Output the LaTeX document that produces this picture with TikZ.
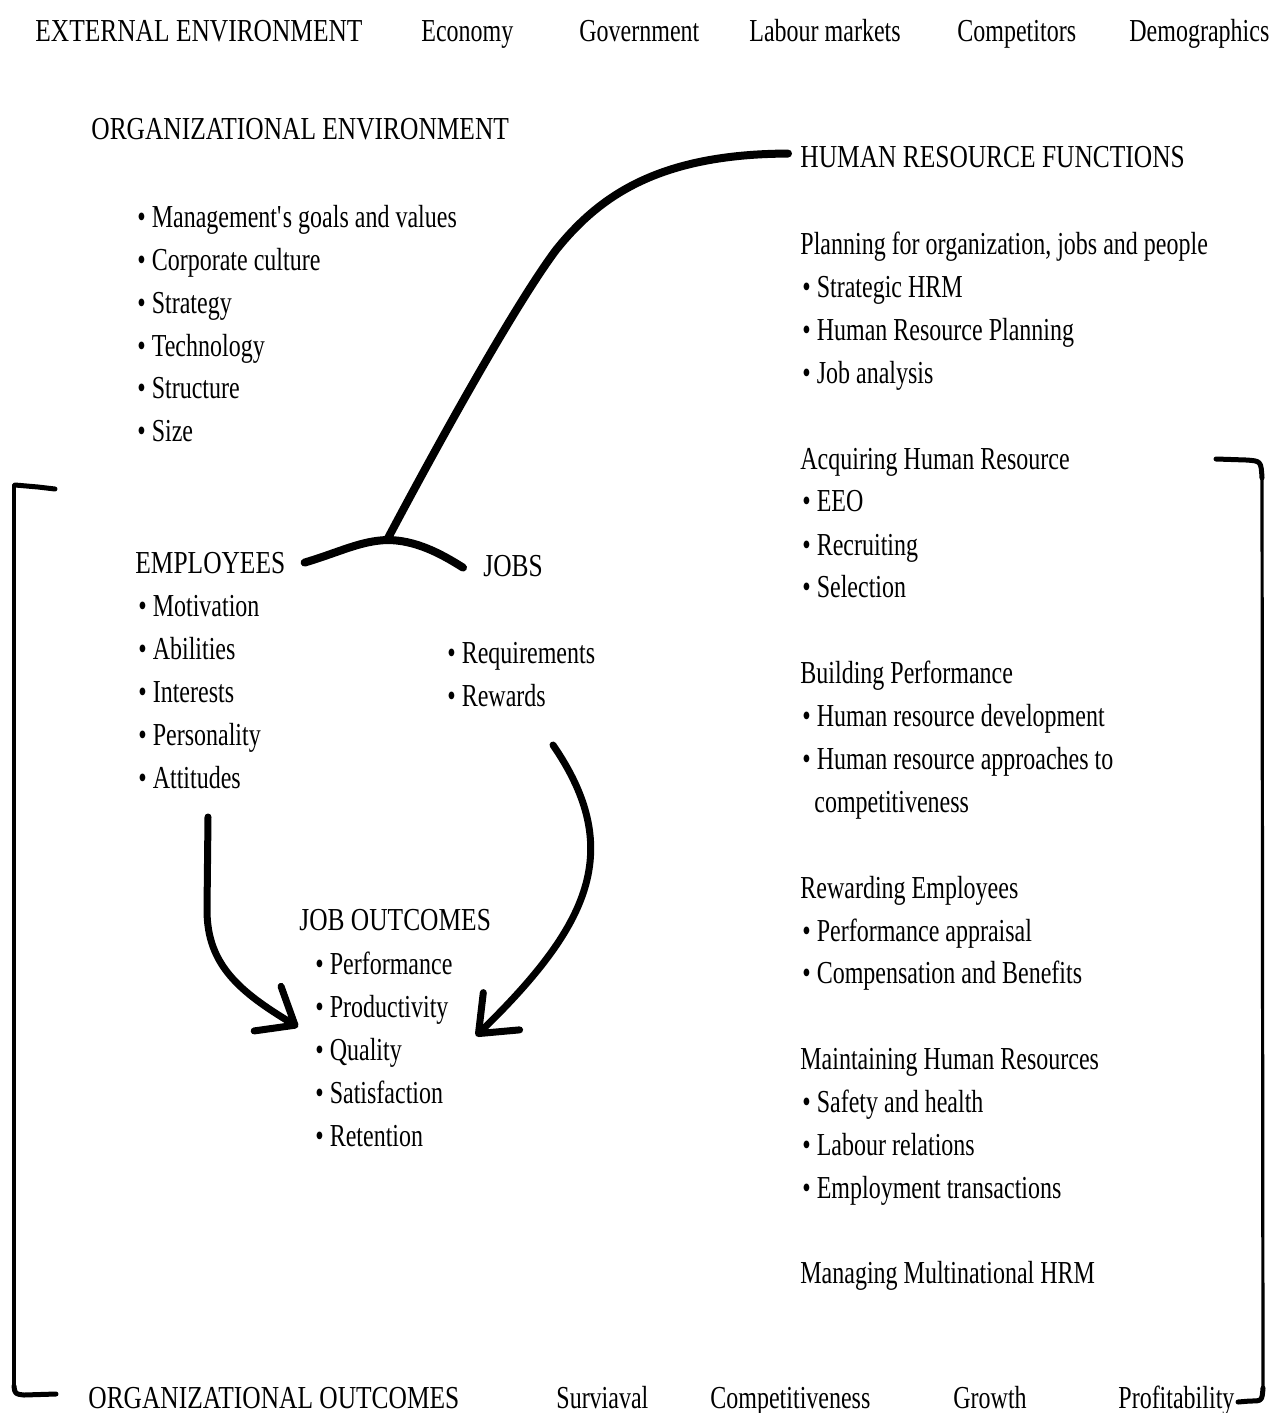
\documentclass[tikz,border=0pt]{standalone}
\usepackage{fontspec}
\setmainfont{Liberation Serif}[FakeStretch=0.75]
\newfontfamily\capsfont{Liberation Serif}[FakeStretch=0.795]
\usetikzlibrary{arrows.meta}
\newcommand\itembul{\textbullet\ }
\begin{document}
\begin{tikzpicture}[x=0.5pt,y=-0.5pt,
  lbl/.style={anchor=base west,inner sep=0pt,font=\fontsize{16}{19}\selectfont},
  head/.style={lbl,font=\fontsize{16}{19}\selectfont\capsfont},
  thickcurve/.style={line width=4pt,line cap=round,line join=round},
  flowarrow/.style={line width=3.5pt,line cap=round,line join=round,
    -{Straight Barb[length=16pt,width=26pt,round]}},
  bracketh/.style={line width=2.5pt,line cap=round,line join=round},
  bracketv/.style={line width=1.6pt,line cap=round},
]
\useasboundingbox (0,0) rectangle (1272,1413);

% external environment row
\node[head] (ext) at (35,42)   {EXTERNAL ENVIRONMENT};
\node[lbl] (econ) at (421,42)  {Economy};
\node[lbl] (gov)  at (579,42)  {Government};
\node[lbl] (lab)  at (749,42)  {Labour markets};
\node[lbl] (comp) at (957,42)  {Competitors};
\node[lbl] (demo) at (1129,42) {Demographics};

% organizational environment
\node[head] (orgenv) at (91,140) {ORGANIZATIONAL ENVIRONMENT};
\node[lbl] (oe1) at (137,227) {\itembul Management\textquotesingle s goals and values};
\node[lbl] (oe2) at (137,270) {\itembul Corporate culture};
\node[lbl] (oe3) at (137,313) {\itembul Strategy};
\node[lbl] (oe4) at (137,356) {\itembul Technology};
\node[lbl] (oe5) at (137,398) {\itembul Structure};
\node[lbl] (oe6) at (137,441) {\itembul Size};

% human resource functions
\node[head] (hrf) at (800,167) {HUMAN RESOURCE FUNCTIONS};
\node[lbl] (plan)  at (800,254) {Planning for organization, jobs and people};
\node[lbl] (plan1) at (802,297) {\itembul Strategic HRM};
\node[lbl] (plan2) at (802,340) {\itembul Human Resource Planning};
\node[lbl] (plan3) at (802,383) {\itembul Job analysis};
\node[lbl] (acq)  at (800,469) {Acquiring Human Resource};
\node[lbl] (acq1) at (802,511) {\itembul EEO};
\node[lbl] (acq2) at (802,555) {\itembul Recruiting};
\node[lbl] (acq3) at (802,597) {\itembul Selection};
\node[lbl] (bld)  at (800,683) {Building Performance};
\node[lbl] (bld1) at (802,726) {\itembul Human resource development};
\node[lbl] (bld2) at (802,769) {\itembul Human resource approaches to};
\node[lbl] (bld3) at (814,812) {competitiveness};
\node[lbl] (rew)  at (800,898) {Rewarding Employees};
\node[lbl] (rew1) at (802,941) {\itembul Performance appraisal};
\node[lbl] (rew2) at (802,983) {\itembul Compensation and Benefits};
\node[lbl] (mnt)  at (800,1069) {Maintaining Human Resources};
\node[lbl] (mnt1) at (802,1112) {\itembul Safety and health};
\node[lbl] (mnt2) at (802,1155) {\itembul Labour relations};
\node[lbl] (mnt3) at (802,1198) {\itembul Employment transactions};
\node[lbl] (mmn)  at (800,1283) {Managing Multinational HRM};

% employees and jobs
\node[head] (emp)  at (135,573) {EMPLOYEES};
\node[head] (jobs) at (483,576) {JOBS};
\node[lbl] (emp1) at (138,616) {\itembul Motivation};
\node[lbl] (emp2) at (138,659) {\itembul Abilities};
\node[lbl] (emp3) at (138,702) {\itembul Interests};
\node[lbl] (emp4) at (138,745) {\itembul Personality};
\node[lbl] (emp5) at (138,788) {\itembul Attitudes};
\node[lbl] (job1) at (447,663) {\itembul Requirements};
\node[lbl] (job2) at (447,706) {\itembul Rewards};

% job outcomes
\node[head] (jo) at (299,930)  {JOB OUTCOMES};
\node[lbl] (jo1) at (315,974)  {\itembul Performance};
\node[lbl] (jo2) at (315,1017) {\itembul Productivity};
\node[lbl] (jo3) at (315,1060) {\itembul Quality};
\node[lbl] (jo4) at (315,1103) {\itembul Satisfaction};
\node[lbl] (jo5) at (315,1146) {\itembul Retention};

% organizational outcomes row
\node[head] (orgout) at (88,1408) {ORGANIZATIONAL OUTCOMES};
\node[lbl] (surv)   at (556,1408) {Surviaval};
\node[lbl] (compet) at (710,1408) {Competitiveness};
\node[lbl] (grow)   at (953,1408) {Growth};
\node[lbl] (prof)   at (1118,1408) {Profitability};

% links between HR functions, employees and jobs
\coordinate (junc) at (387,540);
\draw[thickcurve] ([xshift=-6pt,yshift=1.5pt]hrf.west)
  .. controls (660,154) and (600,195) .. (556,250)
  .. controls (515,305) and (440,440) .. (junc);
\draw[thickcurve] ([xshift=9.5pt]emp.east)
  .. controls (340,552) and (360,541) .. (junc)
  .. controls (415,540) and (440,553) .. ([xshift=-10pt,yshift=-1pt]jobs.west);

% arrows into job outcomes
\coordinate (a1s) at (208,817);
\coordinate (a1e) at (298,1027);
\draw[flowarrow] (a1s) -- (207,910) .. controls (207,965) and (240,992) .. (a1e);
\coordinate (a2s) at (553,745);
\coordinate (a2e) at (476,1036);
\draw[flowarrow] (a2s) .. controls (625,850) and (590,925) .. (a2e);

% left bracket
\draw[bracketh] (55,489) -- (38,487) -- (15,485);
\draw[bracketv] (14,485) -- (14,1388);
\draw[bracketh] (14,1386) .. controls (15,1394) .. (24,1395) -- (56,1394);

% right bracket
\draw[bracketh] (1216,459) -- (1246,460) .. controls (1261,461) .. (1262,478);
\draw[bracketv] (1262,476) -- (1263,1390);
\draw[bracketh] (1263,1388) .. controls (1262,1401) .. (1250,1401) -- (1238,1402);
\end{tikzpicture}
\end{document}
